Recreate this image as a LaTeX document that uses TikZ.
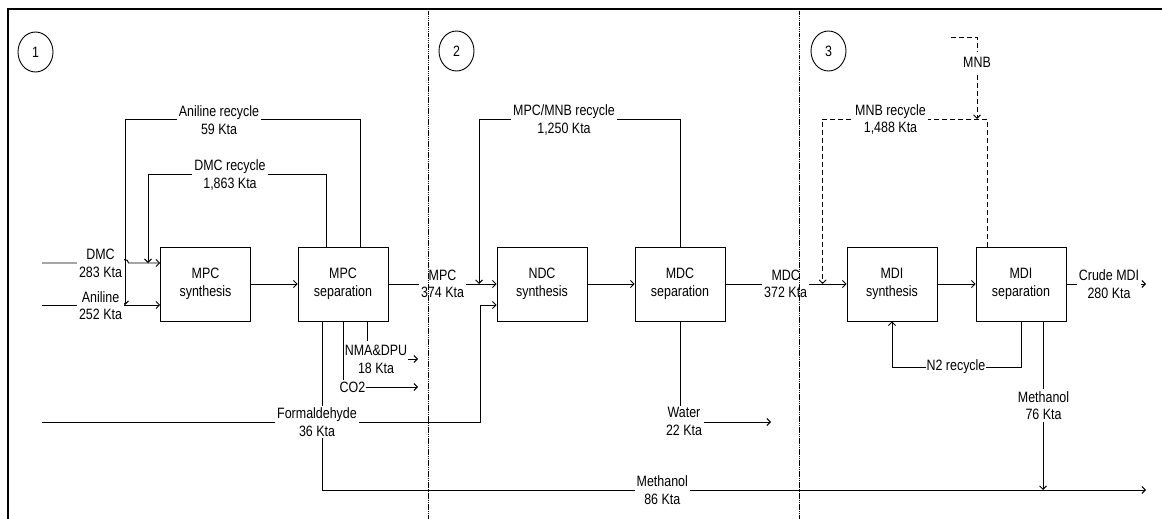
\documentclass[tikz,border=0pt]{standalone}
\usepackage{fontspec}
\setmainfont{Liberation Sans}[FakeStretch=0.83]
\usetikzlibrary{arrows.meta,shapes.geometric}
\tikzset{
  proc/.style={draw, line width=0.9pt, minimum width=90pt, minimum height=74pt, align=center, inner sep=0pt},
  flow/.style={line width=0.9pt, -{Straight Barb[length=3.5pt,width=7pt]}},
  lbl/.style={fill=white, align=center, inner xsep=2pt, inner ysep=2pt},
  mnbline/.style={dash pattern=on 5pt off 3pt},
  zone/.style={line width=1pt, dash pattern=on 1.5pt off 0.7pt},
  tag/.style={draw, ellipse, minimum width=35pt, minimum height=40pt, inner sep=0pt, line width=0.9pt},
}
\begin{document}
\begin{tikzpicture}[x=1pt, y=-1pt, font=\fontsize{15pt}{17.5pt}\selectfont]
\useasboundingbox (0,0) rectangle (1162,519);
% frame
\draw[line width=1.6pt] (8,519) -- (8,9) -- (1162,9);
% zone tags
\node[tag] (z1) at (35.5,52) {1};
\node[tag] (z2) at (456.5,51) {2};
\node[tag] (z3) at (828.5,51) {3};
% process boxes
\node[proc] (ms)  at (205.5,284) {MPC\\synthesis};
\node[proc] (mp)  at (343,284)   {MPC\\separation};
\node[proc] (ns)  at (542,284)   {NDC\\synthesis};
\node[proc] (md)  at (680,284)   {MDC\\separation};
\node[proc] (mis) at (892,284)   {MDI\\synthesis};
\node[proc] (mid) at (1021,284)  {MDI\\separation};
% free ends
\coordinate (dmcin) at (42,263);
\coordinate (anin) at (42,305);
\coordinate (fain) at (42,422);
\coordinate (anjoin) at (125,305);
\coordinate (dmcjoin) at (148,263);
\coordinate (mpcjoin) at (479,284);
\coordinate (mdcjoin) at (822.7,284);
\coordinate (crude) at (1146,284);
\coordinate (nmaout) at (418,359);
\coordinate (co2out) at (418,387);
\coordinate (meout) at (1146,490);
\coordinate (waterout) at (771,422);
\coordinate (mnbin) at (950.7,37.3);
\coordinate (mnbjoin) at (977,119);
% feeds
\draw[flow] (dmcin) -- (121.5,263) arc[start angle=180, end angle=0, radius=3.5pt] -- (ms.west |- dmcin);
\draw[flow] (anin) -- (ms.west |- anin);
\draw[flow] (fain) -- (480,422) |- ([yshift=-21pt]ns.west);
% recycles
\draw[flow] ([xshift=17pt]mp.north) |- (125,119) -- (anjoin);
\draw[flow] ([xshift=-17pt]mp.north) |- (148,174) -- (dmcjoin);
\draw[flow] (md.north) |- (479,119) -- (mpcjoin);
\draw[flow, mnbline] ([xshift=-33.3pt]mid.north) |- (822.7,119) -- (mdcjoin);
\draw[flow, mnbline] (mnbin) -| (mnbjoin);
\draw[flow] (mid.south) -- (1021,367) -| (mis.south);
% main line
\draw[flow] (ms) -- (mp);
\draw[flow] (mp) -- (ns);
\draw[flow] (ns) -- (md);
\draw[flow] (md) -- (mis);
\draw[flow] (mis) -- (mid);
\draw[flow] (mid) -- (crude);
% by-products
\draw[flow] ([xshift=24pt]mp.south) |- (nmaout);
\draw[flow] (mp.south) |- (co2out);
\draw[flow] ([xshift=-21pt]mp.south) |- (meout);
\draw[flow] (md.south) |- (waterout);
\draw[flow] ([xshift=22pt]mid.south) -- ([xshift=22pt]mid.south |- meout);
% labels
\node[lbl] (lanrec) at (219,120) {Aniline recycle\\59 Kta};
\node[lbl] (ldmcrec) at (230,175) {DMC recycle\\1,863 Kta};
\node[lbl] (ldmc) at (100.5,263.5) {DMC\\283 Kta};
\node[lbl] (lan) at (100.5,305.5) {Aniline\\252 Kta};
\node[lbl] (lmpc) at (442.5,284) {MPC\\374 Kta};
\node[lbl] (lmpcrec) at (564,120) {MPC/MNB recycle\\1,250 Kta};
\node[lbl] (lmdc) at (785.7,284) {MDC\\372 Kta};
\node[lbl] (lmnbrec) at (890.5,119.5) {MNB recycle\\1,488 Kta};
\node[lbl, inner ysep=5pt] (lmnb) at (977,62) {MNB};
\node[lbl] (lform) at (317,422) {Formaldehyde\\36 Kta};
\node[lbl, inner xsep=0.5pt, inner ysep=4pt] (lnma) at (376,359.5) {NMA\&DPU\\18 Kta};
\node[lbl, inner xsep=0.5pt] (lco2) at (352.5,387) {CO2};
\node[lbl] (lwater) at (684,421.5) {Water\\22 Kta};
\node[lbl, inner xsep=0.5pt] (ln2) at (956,367) {N2 recycle};
\node[lbl] (lme76) at (1043.5,405.5) {Methanol\\76 Kta};
\node[lbl] (lme86) at (662.3,490) {Methanol\\86 Kta};
\node[lbl] (lcrude) at (1109,284) {Crude MDI\\280 Kta};
% zone separators
\draw[zone] (428,9) -- (428,519);
\draw[zone] (799,9) -- (799,519);
\end{tikzpicture}
\end{document}
